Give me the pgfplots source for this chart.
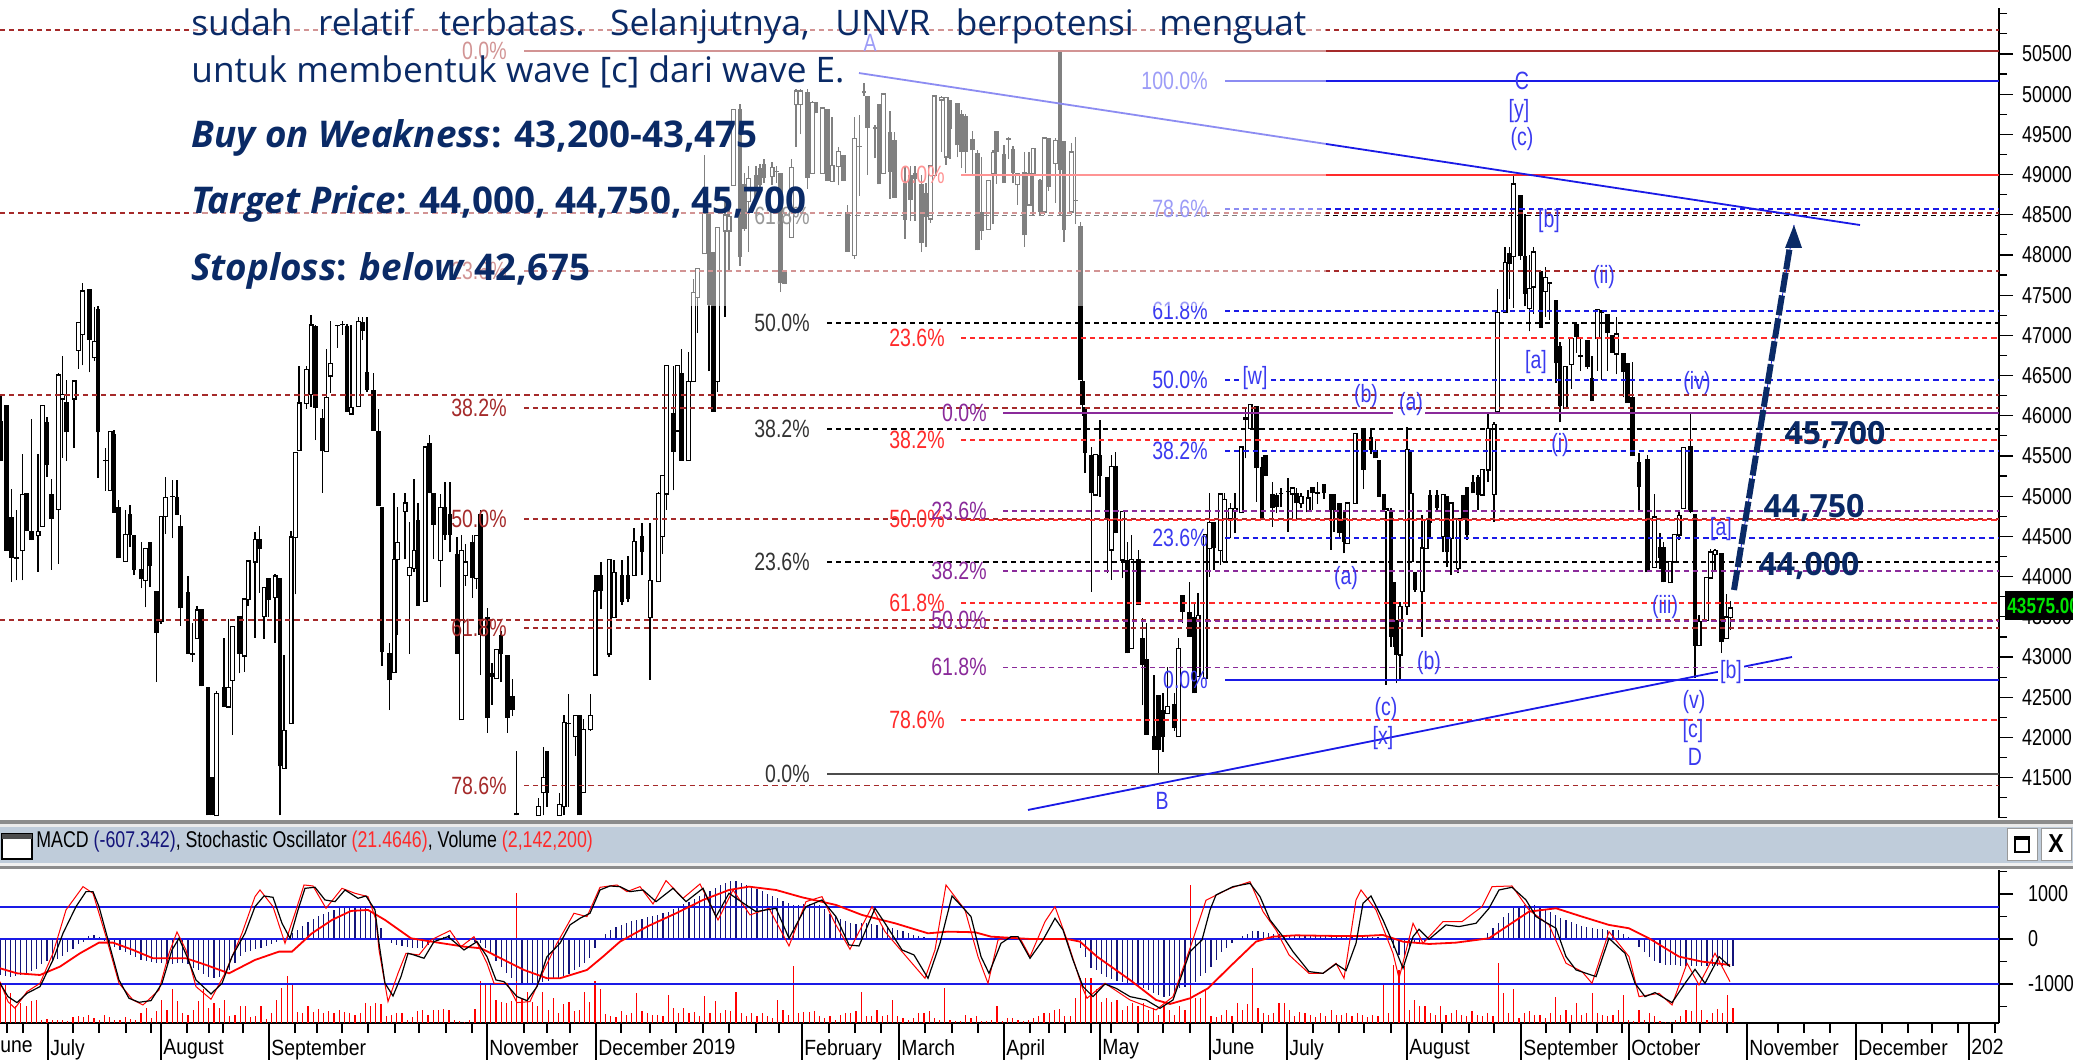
\documentclass[border=0pt]{standalone}
\usepackage{fontspec}
\usepackage{pgfplots}
\usepackage{pgfplotstable}
\pgfplotsset{compat=1.18}
\setmainfont{Liberation Sans}
\newfontfamily\nf[FakeStretch=0.78]{Liberation Sans}
\newfontfamily\mf[FakeStretch=0.88]{Liberation Sans}
\newfontfamily\os{Open Sans}
\definecolor{navy}{HTML}{0A2A66}
\definecolor{dred}{HTML}{A52A2A}
\definecolor{fred}{HTML}{FF2A2A}
\definecolor{fpur}{HTML}{8A2A9A}
\definecolor{fblu}{HTML}{3A3AF0}
\definecolor{lblu}{HTML}{1A1AE6}
\definecolor{hcol}{HTML}{14147A}
\definecolor{band}{HTML}{BFCCDA}
\pgfplotstableread{
x l h b t
1 45436 46265 45436 45937
6.7 44323 46134 44323 46134
11.7 43931 45087 44236 44738
16.7 43953 44825 44220 44240
26.7 44563 45034 44563 45034
31.7 44454 45959 44454 44563
47 45240 45981 45392 45924
51.7 44084 45218 44716 45030
66.7 45436 46439 45793 46177
89.3 46539 47573 46941 47573
98 45231 47368 45793 47324
105.7 45065 45597 45436 45444
114 44794 45828 44794 45776
118.3 44227 44956 44227 44860
130 44367 44890 44520 44773
134 44018 44520 44084 44520
141.3 43852 44432 43966 44097
150 43865 44424 44127 44424
156.7 42688 43822 43298 43822
172.3 44476 45196 44991 45008
177 44768 45196 44768 44986
180.7 43386 44760 43604 44629
188 43037 44009 43037 43813
192.3 42941 43429 43028 43046
201.3 42635 43591 42635 43591
208 41030 42622 41030 42622
212.7 41030 41510 41030 41510
224 42382 43233 42382 42622
239.3 42797 43508 43037 43508
259.7 43800 44629 44345 44472
268.3 43494 43987 43713 43987
280 41030 43983 41641 43983
315.3 45697 47128 46099 47115
322.3 45043 46090 45558 45968
337.7 46845 47128 47115 47128
342.3 47006 47180 47124 47137
347 46046 47137 46046 47115
362.3 46941 47224 47050 47172
367 46295 47224 46317 46548
373.7 45815 46526 45815 46317
378.3 44882 46081 44882 45806
382 42893 44869 43058 44869
389.3 42339 43168 42710 43050
418 43639 44921 43639 44703
429.7 45034 45763 45034 45663
433.7 44214 45034 44642 45034
445 44454 45174 44520 44860
450 44302 45174 44520 44781
457 43037 44498 43037 44280
472.3 43735 44520 43983 44424
480.3 42775 44825 43277 44781
487.3 42055 43604 42243 43503
492 42404 42928 42753 42797
501 42688 43320 43037 43277
507.7 42055 43023 42243 43023
512.3 42265 42731 42339 42513
516.7 41030 41837 41030 41060
547 41139 41837 41313 41837
568.3 41139 42535 42170 42180
579.3 41030 42273 41030 42273
596.7 43822 44018 43822 44018
601 43600 44178 43820 44016
622 43650 44211 43690 44016
628 43680 44250 43723 44016
642 44016 44666 44308 44503
673.3 45071 46620 45551 46031
681.7 45442 46825 45442 46533
709 46554 48517 47383 48517
713.3 46053 48038 46053 48038
740 47863 49878 47972 49817
744.3 48300 49020 48321 48888
756 48650 49106 48670 48997
760 48800 49128 48866 49084
764 48900 49194 48954 49128
776.7 48900 49100 49030 49050
780.7 47536 49019 47645 49019
784.3 47636 47798 47636 47798
807.7 48823 50066 48954 50022
816 49761 49905 49761 49905
827.7 48919 49817 48919 49817
843.3 48919 49237 48919 49237
847.7 48038 48626 48038 48539
859.3 48736 49739 49340 49355
864 49979 50140 50009 50044
867.7 48997 49979 49577 49979
875 49200 49620 49564 49586
879 48879 49878 48879 49878
890 48700 49791 49032 49529
894.7 48714 49529 48714 49425
905 48200 49100 48438 48894
910.7 48426 49100 48688 48994
915 48426 49100 48950 49015
921.7 48034 48994 48152 48885
926 48100 48900 48470 48767
950 49190 49931 49561 49931
957.3 49212 49888 49364 49888
961.7 49081 49800 49286 49748
965.7 49015 49750 49277 49722
972.7 48994 49539 49299 49443
977.3 48056 49300 48056 49268
981.7 48187 49212 48296 48536
996.7 48885 49539 49277 49539
1004 48893 49364 48893 49255
1008.3 49190 49470 49430 49452
1013 48900 49350 49024 49321
1024.3 48100 49277 48243 49037
1040 48500 48950 48536 48937
1048.7 48800 49452 48841 49452
1060 48492 50533 49059 50533
1064 48165 49421 48309 49421
1075.7 48383 49465 48670 48688
1080.3 46442 48405 46442 48361
1082.3 46000 46529 46136 46433
1085 45286 46115 45535 46115
1091.7 43813 45616 45036 45513
1100 44995 45948 45252 45513
1107.7 44041 45243 44704 45243
1115.7 44539 45554 44539 45376
1127.7 43046 44435 43046 44207
1138.3 43647 44331 43647 44215
1142.7 42400 43482 42901 43233
1146.7 42031 43419 42031 42976
1154 41844 42777 41844 42018
1158.7 41554 42528 41844 42528
1163 41823 42549 42010 42342
1174.7 42080 42549 42114 42412
1182.7 43419 43772 43565 43772
1189.7 43254 43938 43254 43556
1194.3 42549 43668 42549 43502
1214 44083 44675 44352 44675
1245.7 45471 46114 45950 45989
1256.7 44932 46126 45347 46126
1262 44713 45492 44713 45368
1265.7 45250 45513 45252 45513
1272.3 44622 45181 44858 45028
1276.7 44790 45044 44870 45020
1281 44860 45098 45028 45044
1288 44559 45222 45050 45069
1296.7 44704 45100 44912 45036
1312.7 44829 45119 45036 45119
1317.7 44900 45181 45024 45057
1324 44970 45152 45044 45152
1331 44331 45028 44829 45028
1334 44559 45028 44829 45028
1339.3 44480 44920 44539 44920
1344 44290 44829 44435 44704
1363.3 45086 45844 45326 45844
1371 45530 45844 45575 45732
1375.3 45471 45700 45471 45575
1379 44995 45451 44995 45451
1384 44829 45028 44829 45028
1391 43129 44850 43254 44829
1393.5 43129 43938 43254 43938
1396.7 42673 43461 43026 43461
1415 43813 44062 43834 44062
1430 44497 45078 44663 45015
1437 44800 45078 44858 45015
1447 44124 45003 44311 45003
1463 44713 45015 44713 45015
1467 44456 45119 44518 45119
1473 45036 45264 45036 45181
1478 44829 45264 45015 45243
1509.3 47449 48093 47893 48026
1520.7 47940 48746 47982 48746
1525 47360 48515 47516 47982
1541 47094 47804 47094 47804
1549.7 47190 47662 47640 47662
1556 46405 47436 46650 47436
1560 45917 46917 46117 46872
1576.7 46783 47147 46983 47147
1580.7 46561 46983 46730 46761
1587.3 46579 46947 46605 46947
1592 46183 46738 46183 46472
1607.7 46561 47271 47027 47271
1612.3 46783 47005 46783 47005
1623.7 46228 46783 46539 46783
1627.7 46161 46650 46161 46650
1632.3 45495 46672 45495 46228
1639 44807 45540 45117 45428
1647.3 44052 45517 44052 45459
1660 44100 44540 44229 44363
1663.3 43927 44430 43927 44363
1690.7 44785 46028 44807 45628
1695 42742 44784 43141 44784
1721.7 43052 44296 43186 44296
}\dnT
\pgfplotstableread{
x l h b t
22.3 43953 45523 44323 45021
38 44062 45523 44511 44563
42.7 44629 46125 44629 46125
58.3 44158 46526 44838 46504
62.7 45479 46744 46212 46265
74 45597 46430 46212 46430
78.7 46583 47159 46818 47159
82.7 46626 47647 47015 47551
94.3 46679 47355 46723 46919
110 45065 45798 45074 45798
125.3 44193 44825 44193 44520
145.7 43617 44345 43953 44345
161 43416 44746 43451 44746
165.3 44533 45240 44746 44978
197 43233 43634 43233 43582
216.7 41030 42579 41030 42548
228.3 42382 43473 42382 42622
232.3 42033 43373 42710 43373
244.3 42819 43721 43015 43721
248 43634 44193 43721 44193
255 43242 44550 44184 44463
264 43224 43865 43503 43865
275 43180 44027 43743 44005
284 41619 43023 41619 42086
291 42173 44563 42173 44489
295.7 43778 45545 44489 45545
299 45567 46613 45567 46155
306.7 46090 46613 46155 46570
311 46112 47255 46265 47128
326.7 45558 46832 45558 46221
330.7 46286 47180 46496 46644
351 46025 47128 46025 46099
358.3 46120 47224 46120 47172
394 42805 45034 42805 44214
397.7 43277 44869 44214 44419
405 44214 45034 44812 44912
409.7 43037 44681 44018 44114
414 44062 45218 44105 44323
425 43691 45610 43691 45610
440.7 43865 45021 44206 44860
461.3 42221 44520 42221 44323
465.7 43887 44411 44018 44180
476.7 43844 44511 43974 44511
496.7 42731 43093 42731 43093
538.7 41030 41248 41030 41139
543.3 41030 41881 41313 41501
559.3 41030 41313 41030 41161
564 41030 42273 41139 42186
575.3 41772 42273 42012 42273
583.7 41313 42230 41313 42099
590.3 42080 42535 42099 42273
595 42780 43820 42780 43820
609 43000 44211 43040 44211
614 43495 44211 43495 44048
634 44016 44601 44016 44438
650 42715 44666 43495 43950
658.3 43937 45050 43937 45028
662.3 44280 45255 44505 45255
666.7 44832 46620 45028 46620
677.7 45813 46620 45813 46620
688.7 45442 46794 45442 46424
693.3 46424 47700 46424 47527
697.7 47034 47828 47471 47828
704.3 48016 49237 48016 48517
717.7 46293 48343 46424 48343
725 47231 48692 48299 48496
729 47800 48600 48299 48474
733.3 48866 49804 48866 49804
748.7 48038 49106 48670 48945
772 48866 49150 48975 49084
791.7 48221 49194 48221 49084
796 49346 50060 49870 50035
800.7 49500 50060 49870 50035
812.3 49019 49920 49019 49891
822.7 49019 49826 49019 49826
832 48919 49717 48919 49106
838.7 48866 49346 49106 49281
854.3 47950 49717 47994 49442
883.3 49019 50000 49019 50000
930.7 48400 49103 48448 49103
934 48994 49975 48994 49975
941.7 49277 49975 49930 49953
946 49124 49953 49220 49953
988.3 48317 48928 48317 48928
993 48383 49300 49015 49268
1017.3 48623 49015 48876 49015
1029 48623 49277 48623 49015
1033 48492 49321 49015 49321
1044.3 48500 49452 48536 49452
1055.7 48645 49452 49138 49421
1071.3 48500 49386 48536 49277
1095.7 45015 45513 45015 45513
1111.7 43958 45513 44331 45368
1122.3 43979 44808 44207 44808
1131.7 43108 44518 43108 44207
1167.3 42300 42881 42300 42383
1178.7 42010 43233 42010 43108
1198 42756 43793 42756 43511
1205 42736 44518 42736 44518
1209.7 43999 45036 44352 44675
1220.7 44145 45024 44323 45024
1224.3 44186 45036 44186 44953
1230.7 44476 44912 44725 44841
1235 44539 45036 44830 44849
1241 44796 45608 44796 45608
1250 45844 46150 45844 46134
1292.3 44704 45115 45028 45098
1301 44850 45036 44912 44995
1308 44808 45078 44808 44974
1347.7 44414 44912 44414 44912
1355 44912 45774 44912 45774
1386 42653 44840 44820 44840
1400 42715 43689 43026 43627
1407 43523 45865 43627 45575
1411 44186 45554 44186 45028
1422 43254 44767 43813 44352
1426 44352 44704 44352 44704
1443 44300 45015 44497 45015
1451 44020 44912 44476 44912
1458 44041 44713 44103 44713
1482 45015 45334 45015 45334
1488 45181 46031 45326 45844
1494 44684 45927 45023 45886
1497.7 46050 47582 46050 47280
1505 47294 48093 47294 47902
1513.3 47338 48981 47982 48879
1529.3 47049 48000 47338 47582
1533.3 47271 48100 47604 48035
1545.7 47227 47849 47547 47715
1565 46095 46614 46095 46614
1571.7 46339 46960 46641 46960
1597.3 46561 47316 46960 47316
1601.7 46450 47316 47290 47302
1616.7 46516 47227 46770 47014
1654.3 44118 45029 44118 44740
1670 43927 44185 43927 44185
1674.3 44185 44518 44185 44518
1679 44450 44805 44518 44762
1683.3 44851 45606 44851 45606
1699 43141 43520 43141 43439
1706.7 43452 43985 43452 43985
1710.7 43985 44340 43985 44305
1715 44052 44340 44280 44320
1726.7 43230 43785 43230 43497
1730.7 43341 43700 43497 43608
}\upT
\newcommand\hd[4]{\addplot[#1,line width=0.9pt,dash pattern=on 2.6pt off 2pt] coordinates {(#2,#4)(#3,#4)};}
\newcommand\hs[4]{\addplot[#1,line width=1.1pt] coordinates {(#2,#4)(#3,#4)};}
\begin{document}
\begin{tikzpicture}
\path[use as bounding box,fill=white] (0,0) rectangle (1036.5pt,530pt);
\begin{axis}[at={(0pt,121pt)},anchor=south west,scale only axis,width=999.5pt,height=405pt,
  xmin=0,xmax=1999,ymin=40998,ymax=51071,
  axis x line=none,axis y line=right,axis line style={-,black,line width=0.7pt},
  ytick={41500,42000,42500,43000,43500,44000,44500,45000,45500,46000,46500,47000,47500,48000,48500,49000,49500,50000,50500},
  minor ytick={41000,41250,41750,42250,42750,43250,43750,44250,44750,45250,45750,46250,46750,47250,47750,48250,48750,49250,49750,50250,50750,51000},
  tick align=outside,major tick length=7pt,minor tick length=4pt,
  tick style={black,line width=0.6pt},
  scaled y ticks=false,
  yticklabel style={font=\nf\fontsize{11.5}{13}\selectfont,xshift=1pt},
  /pgf/number format/assume math mode=true,/pgf/number format/fixed,/pgf/number format/set thousands separator={},
  ]
\addplot[draw=none,no markers,error bars/.cd,y dir=plus,y explicit,error mark=none,error bar style={black,line width=0.6pt}]
  table[x=x,y=l,y error plus expr=\thisrow{h}-\thisrow{l}] {\dnT};
\addplot[draw=none,no markers,error bars/.cd,y dir=plus,y explicit,error mark=none,error bar style={black,line width=0.6pt}]
  table[x=x,y=l,y error plus expr=\thisrow{h}-\thisrow{l}] {\upT};
\addplot[draw=none,no markers,error bars/.cd,y dir=plus,y explicit,error mark=none,error bar style={black,line width=2.3pt}]
  table[x=x,y=b,y error plus expr=\thisrow{t}-\thisrow{b}] {\dnT};
\addplot[draw=none,no markers,error bars/.cd,y dir=plus,y explicit,error mark=none,error bar style={black,line width=2.5pt}]
  table[x=x,y expr=\thisrow{b}-10,y error plus expr=\thisrow{t}-\thisrow{b}+20] {\upT};
\addplot[draw=none,no markers,error bars/.cd,y dir=plus,y explicit,error mark=none,error bar style={white,line width=1.3pt}]
  table[x=x,y expr=\thisrow{b}+6,y error plus expr={max(\thisrow{t}-\thisrow{b}-12,0)}] {\upT};
% full width dark red dashed
\hd{dred}{0}{1999}{50793}\hd{dred}{0}{1999}{48522}\hd{dred}{0}{1999}{46257}\hd{dred}{0}{1999}{43460}
% dark red fib
\hs{dred}{524}{1999}{50532}
\hd{dred}{524}{1999}{47800}\hd{dred}{524}{1999}{46096}\hd{dred}{524}{1999}{44717}\hd{dred}{524}{1999}{43365}\hd{dred}{524}{1999}{41402}
% black fib
\hd{black}{827}{1999}{48490}\hd{black}{827}{1999}{47153}\hd{black}{827}{1999}{45835}\hd{black}{827}{1999}{44177}
\hs{black!70}{827}{1999}{41543}
% red fib
\hs{fred}{961}{1999}{48992}
\hd{fred}{961}{1999}{46965}\hd{fred}{961}{1999}{45700}\hd{fred}{961}{1999}{44700}\hd{fred}{961}{1999}{43670}\hd{fred}{961}{1999}{42220}
% purple fib
\addplot[fpur,line width=1.1pt] coordinates {(1003,46030)(1393,46030)};
\addplot[fpur,line width=1.1pt] coordinates {(1425,46030)(1999,46030)};
\hd{fpur}{1003}{1999}{44816}\hd{fpur}{1003}{1999}{44070}\hd{fpur}{1003}{1999}{43450}\hd{fpur}{1003}{1999}{42870}
% blue fib
\hs{lblu}{1225}{1999}{50163}
\hd{lblu}{1225}{1999}{48570}\hd{lblu}{1225}{1999}{47300}\hd{lblu}{1225}{1999}{46445}\hd{lblu}{1225}{1999}{45560}\hd{lblu}{1225}{1999}{44480}
\hs{lblu}{1225}{1999}{42715}
% trend lines
\addplot[lblu,line width=0.9pt] coordinates {(859,50262)(1860,48372)};
\addplot[lblu,line width=0.9pt] coordinates {(1028,41098)(1792,43000)};
\end{axis}
\begin{scope}[x=0.5pt,y=-0.5pt,yshift=530pt]
 \tikzset{pl/.style={anchor=east,inner sep=0pt,font=\nf\fontsize{12.5}{14}\selectfont}}
 % dark red
 \node[pl,text=dred] at (507,51) {0.0\%};
 \node[pl,text=dred] at (507,271) {23.6\%};
 \node[pl,text=dred] at (507,408) {38.2\%};
 \node[pl,text=dred] at (507,519) {50.0\%};
 \node[pl,text=dred] at (507,628) {61.8\%};
 \node[pl,text=dred] at (507,786) {78.6\%};
 % black
 \node[pl,text=black!80] at (810,216) {61.8\%};
 \node[pl,text=black!80] at (810,323) {50.0\%};
 \node[pl,text=black!80] at (810,429) {38.2\%};
 \node[pl,text=black!80] at (810,562) {23.6\%};
 \node[pl,text=black!80] at (810,774) {0.0\%};
 % red
 \node[pl,text=fred] at (945,175) {0.0\%};
 \node[pl,text=fred] at (945,338) {23.6\%};
 \node[pl,text=fred] at (945,440) {38.2\%};
 \node[pl,text=fred] at (945,519) {50.0\%};
 \node[pl,text=fred] at (945,603) {61.8\%};
 \node[pl,text=fred] at (945,720) {78.6\%};
 % purple
 \node[pl,text=fpur] at (987,413) {0.0\%};
 \node[pl,text=fpur] at (987,511) {23.6\%};
 \node[pl,text=fpur] at (987,571) {38.2\%};
 \node[pl,text=fpur] at (987,620) {50.0\%};
 \node[pl,text=fpur] at (987,667) {61.8\%};
 % blue
 \node[pl,text=fblu] at (1208,81) {100.0\%};
 \node[pl,text=fblu] at (1208,209) {78.6\%};
 \node[pl,text=fblu] at (1208,311) {61.8\%};
 \node[pl,text=fblu] at (1208,380) {50.0\%};
 \node[pl,text=fblu] at (1208,451) {38.2\%};
 \node[pl,text=fblu] at (1208,538) {23.6\%};
 \node[pl,text=fblu] at (1208,680) {0.0\%};
 \tikzset{wv/.style={inner sep=0pt,text=fblu,font=\nf\fontsize{12.5}{14}\selectfont}}
 \node[wv] at (870,43) {A};
 % translucent panel
 \fill[white,opacity=0.5] (189,0) rectangle (1326,306);
 % wave labels
 \node[wv] at (1522,81) {C};
 \node[wv] at (1519,111) {[y]};
 \node[wv] at (1522,139) {(c)};
 \node[wv] at (1549,221) {[b]};
 \node[wv] at (1604,277) {(ii)};
 \node[wv] at (1536,362) {[a]};
 \node[wv,fill=white,inner sep=1pt] at (1255,378) {[w]};
 \node[wv] at (1366,396) {(b)};
 \node[wv] at (1411,404) {(a)};
 \node[wv] at (1697,383) {(iv)};
 \node[wv] at (1560,445) {(i)};
 \node[wv] at (1721,529) {[a]};
 \node[wv] at (1346,578) {(a)};
 \node[wv] at (1665,607) {(iii)};
 \node[wv] at (1429,663) {(b)};
 \node[wv,fill=white,inner sep=1pt] at (1731,672) {[b]};
 \node[wv] at (1386,709) {(c)};
 \node[wv] at (1383,738) {[x]};
 \node[wv] at (1694,702) {(v)};
 \node[wv] at (1693,731) {[c]};
 \node[wv] at (1695,757) {D};
 \node[wv] at (1162,801) {B};
 % arrow
 \draw[lblu,line width=0.4pt] (1734,590) -- (1794,225);
 \draw[navy,line width=3pt,dash pattern=on 10pt off 1.6pt] (1734,590) -- (1790,246);
 \fill[navy] (1794,225) -- (1802,248) -- (1785,248) -- cycle;
 % targets
 \tikzset{tg/.style={inner sep=0pt,text=navy,font=\os\bfseries\fontsize{16}{18}\selectfont}}
 \node[tg] at (1835,435) {45,700};
 \node[tg] at (1814,508) {44,750};
 \node[tg] at (1809,566) {44,000};
 % text block
 \tikzset{tb/.style={anchor=west,inner sep=0pt,text=navy}}
 \node[tb,font=\os\fontsize{17.6}{20}\selectfont] at (191,26) {\hbox to 557.5pt{sudah\hfill relatif\hfill terbatas.\hfill Selanjutnya,\hfill UNVR\hfill berpotensi\hfill menguat}};
 \node[tb,font=\os\fontsize{17.6}{20}\selectfont] at (191,72) {untuk membentuk wave [c] dari wave E.};
 \node[tb,font=\os\bfseries\fontsize{18.4}{20}\selectfont] at (191,138) {\textit{Buy on Weakness}: 43,200-43,475};
 \node[tb,font=\os\bfseries\fontsize{18.4}{20}\selectfont] at (191,204) {\textit{Target Price}: 44,000, 44,750, 45,700};
 \node[tb,font=\os\bfseries\fontsize{18.4}{20}\selectfont] at (191,271) {\textit{Stoploss}: \textit{below} 42,675};
 % price tag
 \fill[black] (2005,591) rectangle (2073,620);
 \node[anchor=west,inner sep=0pt,text=green!90!black,font=\nf\bfseries\fontsize{11}{13}\selectfont] at (2007,605.5) {43575.00};
 % header band
 \fill[black!45] (0,820) rectangle (2073,824);
 \fill[black!8] (0,824) rectangle (2073,827);
 \fill[band] (0,827) rectangle (2073,863);
 \fill[black!6] (0,863) rectangle (2073,866);
 \fill[black!45] (0,866) rectangle (2073,869);
 \filldraw[fill=white,draw=black,line width=0.6pt] (2,834) rectangle (32,859);
 \fill[black!70] (2,834) rectangle (32,839);
 \filldraw[fill=white,draw=black!40,line width=0.4pt] (2007,828) rectangle (2037,860);
 \draw[black,line width=0.8pt] (2015,837) rectangle (2029,852);
 \fill[black] (2015,837) rectangle (2029,840);
 \filldraw[fill=white,draw=black!40,line width=0.4pt] (2041,828) rectangle (2071,860);
 \node[inner sep=0pt,font=\mf\bfseries\fontsize{13}{14}\selectfont] at (2056,844) {X};
 \node[anchor=west,inner sep=0pt,font=\nf\fontsize{11.4}{13}\selectfont] at (36,842) {MACD \textcolor{hcol}{(-607.342)}, Stochastic Oscillator \textcolor{fred}{(21.4646)}, Volume \textcolor{fred}{(2,142,200)}};
\end{scope}
% volume and time axis
\begin{axis}[at={(0pt,18.5pt)},anchor=south west,scale only axis,width=999.5pt,height=76.5pt,
  xmin=0,xmax=1999,ymin=0,ymax=21.9,
  axis y line=none,axis x line=bottom,axis line style={-,black,line width=0.7pt},
  tick align=outside,major tick length=18.5pt,minor tick length=5pt,
  tick style={black,line width=0.6pt},
  xtick={48,161,269,487,596,802,899,1004,1100,1210,1287,1407,1521,1629,1747,1856,1969},
  xticklabels={July,August,September,November,December,February,March,April,May,June,July,August,September,October,November,December,202},
  minor xtick={7,23,73,99,126,151,187,209,223,243,295,317,342,368,395,419,446,472,524,547,570,621,650,676,703,729,756,779,829,855,881,925,952,978,1030,1049,1065,1091,1111,1138,1163,1190,1233,1262,1313,1339,1364,1391,1442,1469,1494,1546,1570,1597,1622,1649,1672,1700,1727,1778,1804,1830,1882,1908,1932,1958,1995},
  xticklabel style={anchor=north west,font=\mf\fontsize{11}{13}\selectfont,yshift=14pt,xshift=0pt,inner xsep=1pt},
  ]
\addplot[ycomb,red,line width=0.6pt] table[header=false,row sep=\\,x expr=\coordindex*5.22,y index=0] {5.7\\5.7\\4.3\\2.4\\2.9\\2.4\\3.1\\3.3\\.5\\.6\\.4\\.5\\.5\\.3\\.8\\1.0\\.9\\1.1\\.7\\.5\\1.2\\.9\\.5\\.5\\.8\\.6\\.5\\1.4\\2.1\\.7\\1.7\\3.3\\1.9\\4.8\\3.1\\1.4\\1.2\\1.9\\3.2\\4.8\\2.2\\2.9\\2.1\\3.3\\1.0\\1.1\\2.5\\2.4\\.9\\1.0\\2.5\\.6\\1.4\\3.3\\5.0\\6.7\\5.4\\1.6\\1.5\\2.4\\1.6\\2.0\\1.4\\1.7\\1.5\\1.9\\1.6\\1.4\\1.2\\1.4\\2.8\\2.5\\2.9\\2.7\\1.0\\1.1\\1.5\\1.4\\.4\\.8\\1.7\\1.9\\1.2\\1.8\\1.9\\2.0\\1.8\\.5\\.3\\.2\\.5\\2.0\\6.0\\5.5\\5.7\\3.3\\3.0\\2.9\\3.2\\18.6\\3.5\\4.5\\3.0\\2.4\\4.5\\1.9\\3.6\\1.5\\2.7\\3.0\\1.7\\1.9\\4.5\\3.0\\6.0\\4.8\\1.3\\1.0\\.8\\1.7\\1.2\\1.4\\4.3\\1.7\\1.4\\1.2\\1.2\\1.0\\4.0\\2.2\\1.4\\2.1\\1.4\\1.6\\1.0\\3.8\\1.4\\3.1\\1.4\\1.9\\1.7\\4.5\\1.4\\1.0\\1.4\\1.0\\1.4\\1.0\\.7\\3.3\\1.9\\1.2\\8.1\\1.4\\1.6\\1.6\\1.7\\1.0\\.7\\1.0\\.5\\1.2\\1.4\\1.4\\1.7\\4.5\\1.0\\1.0\\1.9\\1.0\\1.2\\3.3\\1.0\\.7\\.5\\.7\\1.4\\1.4\\1.7\\.7\\.5\\5.0\\.4\\.3\\.3\\1.2\\.7\\1.0\\.3\\.3\\.5\\2.4\\.3\\.7\\.7\\.5\\.3\\.5\\.7\\1.0\\1.4\\1.4\\1.9\\2.0\\1.0\\1.0\\3.6\\6.4\\6.4\\6.4\\4.8\\3.0\\3.6\\3.0\\3.3\\1.9\\2.4\\2.9\\2.4\\2.9\\1.9\\2.2\\1.2\\2.4\\1.9\\1.2\\2.4\\1.9\\19.8\\3.6\\3.6\\4.8\\1.0\\.9\\1.2\\1.9\\1.0\\2.9\\1.9\\2.7\\7.9\\2.2\\1.4\\1.2\\1.4\\2.9\\2.9\\1.9\\1.0\\1.6\\1.4\\1.2\\.9\\1.4\\1.0\\1.9\\1.2\\1.2\\1.4\\1.0\\1.4\\1.2\\.9\\1.2\\1.0\\5.5\\1.4\\8.3\\7.6\\8.1\\1.9\\3.3\\2.4\\2.4\\1.4\\1.2\\2.4\\1.2\\1.4\\1.9\\1.2\\1.0\\1.7\\1.2\\1.0\\1.4\\1.0\\8.6\\4.3\\1.4\\4.8\\.7\\1.4\\1.7\\1.2\\1.2\\.7\\1.4\\3.7\\1.2\\1.9\\1.2\\2.9\\1.2\\1.4\\4.3\\1.4\\1.2\\1.0\\1.2\\1.9\\4.0\\.5\\.3\\1.9\\.5\\1.4\\1.0\\.3\\.2\\.2\\.5\\1.0\\1.9\\1.7\\5.7\\1.9\\.5\\1.4\\2.0\\1.4\\4.0\\2.14\\};
\end{axis}
% indicators
\begin{axis}[at={(0pt,18.5pt)},anchor=south west,scale only axis,width=999.5pt,height=76.5pt,
  xmin=0,xmax=1999,ymin=-1867,ymax=1533,
  axis x line=none,axis y line=right,axis line style={-,black,line width=0.7pt},
  tick align=outside,major tick length=7pt,minor tick length=4pt,
  tick style={black,line width=0.6pt},
  ytick={-1000,0,1000},minor ytick={-1500,-500,500,1500},
  scaled y ticks=false,
  yticklabel style={font=\nf\fontsize{11.5}{13}\selectfont,xshift=4pt},
  /pgf/number format/assume math mode=true,/pgf/number format/fixed,/pgf/number format/set thousands separator={},
  ]
\addplot[ycomb,hcol,line width=0.6pt] table[header=false,row sep=\\,x expr=\coordindex*5.22,y index=0] {-800\\-820\\-840\\-830\\-810\\-780\\-720\\-660\\-560\\-500\\-470\\-440\\-380\\-300\\-220\\-120\\-60\\60\\90\\40\\-50\\-100\\-170\\-240\\-300\\-360\\-410\\-460\\-490\\-510\\-530\\-540\\-550\\-550\\-540\\-540\\-560\\-640\\-700\\-780\\-840\\-870\\-850\\-780\\-680\\-540\\-380\\-290\\-260\\-220\\-190\\-160\\-120\\-70\\-20\\50\\130\\210\\290\\370\\440\\500\\550\\590\\640\\690\\720\\720\\720\\720\\700\\620\\520\\250\\-30\\-100\\-130\\-150\\-180\\-200\\-210\\-190\\-140\\-70\\-10\\50\\90\\70\\30\\-10\\-40\\-60\\-100\\-200\\-340\\-480\\-620\\-760\\-860\\-940\\-990\\-1000\\-990\\-980\\-960\\-930\\-900\\-870\\-830\\-770\\-700\\-620\\-530\\-420\\-190\\-10\\100\\200\\270\\320\\350\\390\\420\\450\\480\\510\\540\\570\\610\\660\\710\\770\\830\\890\\950\\1010\\1070\\1130\\1190\\1250\\1290\\1280\\1240\\1200\\1160\\1120\\1060\\1000\\960\\900\\840\\790\\760\\760\\770\\780\\790\\760\\660\\560\\500\\440\\400\\350\\340\\350\\360\\340\\300\\280\\260\\250\\200\\170\\130\\90\\60\\40\\30\\20\\10\\10\\10\\20\\20\\20\\30\\30\\30\\30\\30\\40\\40\\50\\30\\20\\20\\10\\10\\30\\20\\20\\20\\10\\10\\10\\-50\\-207\\-400\\-640\\-700\\-770\\-840\\-890\\-930\\-960\\-990\\-1030\\-1050\\-1090\\-1130\\-1200\\-1250\\-1300\\-1270\\-1180\\-1100\\-1060\\-1010\\-960\\-820\\-750\\-620\\-460\\-300\\-200\\-100\\-30\\60\\110\\170\\180\\160\\130\\110\\100\\90\\90\\90\\90\\90\\90\\90\\90\\80\\70\\60\\50\\50\\60\\60\\50\\60\\50\\40\\30\\10\\-200\\-360\\-400\\-180\\-100\\-60\\-40\\-30\\-30\\-20\\-10\\0\\-20\\-10\\10\\20\\20\\10\\130\\240\\350\\480\\580\\680\\720\\750\\760\\750\\720\\650\\600\\540\\470\\420\\380\\330\\290\\270\\240\\220\\220\\210\\200\\190\\120\\50\\-20\\-180\\-300\\-400\\-480\\-540\\-570\\-580\\-580\\-590\\-590\\-590\\-590\\-590\\-590\\-590\\-590\\-600\\-600\\-607\\};
\addplot[lblu,line width=1.1pt] coordinates {(0,704)(1999,704)};
\addplot[lblu,line width=1.1pt] coordinates {(0,0)(1999,0)};
\addplot[lblu,line width=1.1pt] coordinates {(0,-1000)(1999,-1000)};
% signal
\addplot[red,line width=0.9pt] coordinates {(0,-651)(17,-763)(40,-800)(60,-614)(80,-318)(99,-81)(113,-81)(133,-244)(153,-429)(186,-429)(206,-577)(229,-763)(255,-466)(279,-281)(292,-281)(312,126)(332,423)(351,623)(368,645)(385,423)(411,15)(438,-81)(464,-170)(481,-207)(504,-466)(524,-688)(547,-873)(560,-873)(587,-688)(603,-392)(620,-59)(647,275)(676,571)(703,867)(729,1089)(749,1163)(776,1089)(802,926)(836,756)(862,534)(895,349)(928,126)(948,163)(975,149)(991,52)(1030,0)(1067,0)(1080,-59)(1097,-392)(1130,-911)(1156,-1355)(1170,-1444)(1190,-1318)(1208,-1096)(1230,-614)(1256,-59)(1273,52)(1296,81)(1336,67)(1363,67)(1383,89)(1403,-59)(1429,-111)(1456,-81)(1489,15)(1509,312)(1529,608)(1556,682)(1582,497)(1609,312)(1629,238)(1649,15)(1679,-392)(1702,-503)(1730,-577)};
% thin red
\addplot[red,line width=0.5pt] coordinates {(0,-948)(8,-1392)(15,-1540)(27,-1170)(40,-985)(53,-318)(66,645)(83,1163)(93,1015)(106,52)(119,-985)(133,-1355)(143,-1466)(159,-1133)(169,-318)(177,156)(186,-244)(196,-1059)(211,-1340)(225,-763)(242,126)(255,941)(260,1089)(273,719)(285,-96)(295,571)(304,1200)(313,1178)(326,682)(342,1126)(355,1015)(368,941)(376,423)(379,-244)(388,-1392)(398,-763)(406,-318)(419,-355)(431,-22)(450,186)(461,-170)(474,52)(487,-540)(494,-985)(507,-985)(517,-1414)(530,-1392)(544,-688)(557,-96)(574,571)(587,497)(600,1148)(617,1200)(627,1052)(640,1163)(653,778)(666,1297)(683,904)(700,1223)(718,423)(733,1089)(750,534)(769,682)(789,-155)(806,830)(822,941)(835,349)(850,-229)(872,719)(885,163)(902,-281)(925,-874)(935,-244)(946,1200)(965,645)(978,-392)(988,-985)(998,-22)(1013,52)(1021,-22)(1030,-392)(1045,386)(1055,719)(1067,-22)(1082,-1059)(1087,-1318)(1105,-985)(1130,-1355)(1156,-1577)(1173,-1281)(1190,-207)(1206,860)(1230,1126)(1250,1274)(1263,608)(1276,201)(1289,-355)(1309,-763)(1323,-763)(1336,-540)(1344,-873)(1356,867)(1361,1089)(1376,645)(1393,-318)(1399,-873)(1413,349)(1423,-96)(1443,386)(1462,386)(1482,719)(1492,1163)(1512,1178)(1529,645)(1549,312)(1566,-540)(1582,-725)(1592,-985)(1609,163)(1629,-392)(1639,-1281)(1659,-1207)(1672,-1466)(1687,-540)(1699,-1022)(1715,-318)(1730,-948)};
% black
\addplot[black,line width=0.6pt] coordinates {(0,-985)(8,-1281)(17,-1414)(27,-1207)(40,-1059)(53,-466)(63,126)(76,719)(86,1052)(93,1052)(99,719)(109,-96)(119,-911)(129,-1318)(139,-1407)(151,-1370)(162,-985)(172,-244)(179,15)(187,-392)(196,-911)(211,-1222)(222,-985)(232,-392)(245,126)(255,719)(264,956)(273,926)(282,349)(290,15)(298,645)(305,1126)(315,1149)(325,867)(335,830)(345,1089)(358,904)(366,956)(375,645)(379,-96)(385,-985)(393,-1266)(401,-836)(408,-318)(414,-355)(424,-429)(434,-59)(448,52)(464,-244)(477,-59)(487,-392)(496,-911)(504,-948)(517,-1281)(527,-1370)(537,-1059)(547,-392)(560,-96)(570,312)(580,460)(590,571)(600,1089)(610,1178)(620,1163)(630,1052)(643,1089)(656,830)(673,1126)(686,830)(703,1126)(716,496)(729,1015)(746,756)(756,608)(776,682)(789,15)(806,719)(822,867)(836,497)(849,-133)(859,-155)(875,682)(885,349)(902,-244)(914,-355)(928,-874)(940,-96)(952,956)(962,719)(971,497)(981,-392)(989,-763)(1001,-96)(1011,52)(1018,52)(1030,-429)(1043,-22)(1055,460)(1063,200)(1073,-466)(1083,-1059)(1093,-1281)(1105,-1000)(1116,-1096)(1130,-1281)(1146,-1355)(1160,-1540)(1173,-1355)(1190,-281)(1202,-22)(1210,645)(1216,978)(1233,1163)(1250,1237)(1260,941)(1270,423)(1283,52)(1293,-281)(1309,-725)(1323,-763)(1336,-555)(1346,-703)(1356,-96)(1363,793)(1371,956)(1383,423)(1393,-96)(1403,-651)(1413,52)(1419,215)(1429,-7)(1446,312)(1459,275)(1476,349)(1489,682)(1499,1089)(1512,1149)(1526,867)(1536,497)(1556,238)(1566,-392)(1576,-688)(1596,-836)(1609,15)(1625,-318)(1635,-985)(1645,-1281)(1655,-1192)(1672,-1414)(1685,-985)(1695,-674)(1705,-985)(1719,-392)(1730,-614)};
\end{axis}
\begin{scope}[x=0.5pt,y=-0.5pt,yshift=530pt]
 \node[anchor=west,inner sep=0pt,font=\mf\fontsize{11}{13}\selectfont] at (0,1047) {une};
 \node[anchor=west,inner sep=0pt,font=\mf\fontsize{11}{13}\selectfont] at (692,1047) {2019};
\end{scope}
\end{tikzpicture}
\end{document}
